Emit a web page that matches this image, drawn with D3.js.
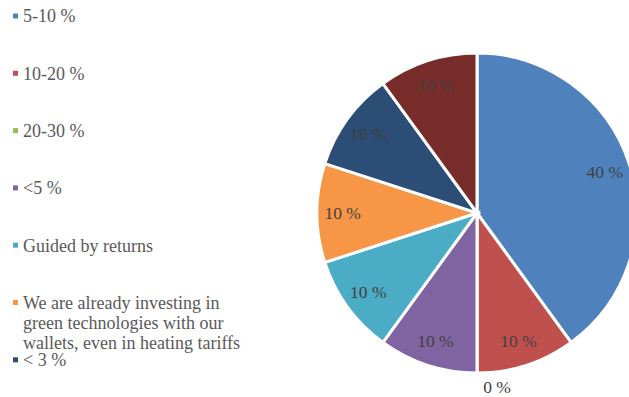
<!DOCTYPE html>
<html>
<head>
<meta charset="utf-8">
<script src="https://cdn.jsdelivr.net/npm/d3@7/dist/d3.min.js"></script>
<style>
  html, body { margin: 0; padding: 0; background: #fff; overflow: hidden; }
  svg { display: block; }
  text { font-family: "Liberation Serif", "DejaVu Serif", "Times New Roman", serif; }
</style>
</head>
<body>
<svg id="chart" width="629" height="397"></svg>
<script>
// Survey answers, in slice order (clockwise from 12 o'clock)
const categories = [
  "5-10 %",
  "10-20 %",
  "20-30 %",
  "<5 %",
  "Guided by returns",
  "We are already investing in green technologies with our wallets, even in heating tariffs",
  "< 3 %",
  "Other"
];
const shares = [40, 10, 0, 10, 10, 10, 10, 10];
const colors = ["#4f81bd", "#c0504d", "#9bbb59", "#8064a2", "#4bacc6", "#f79646", "#2c4d75", "#772c2a"];
// Legend text wrapped onto lines (the last entry falls below the visible area)
const legendLines = [
  ["5-10 %"],
  ["10-20 %"],
  ["20-30 %"],
  ["<5 %"],
  ["Guided by returns"],
  ["We are already investing in", "green technologies with our", "wallets, even in heating tariffs"],
  ["< 3 %"]
];

const svg = d3.select("#chart");

const cx = 477, cy = 213, R = 160;

const data = categories.map((c, i) => ({ name: c, value: shares[i], color: colors[i] }));

const pie = d3.pie().value(d => d.value).sort(null);
const arcs = pie(data);
const arc = d3.arc().innerRadius(0).outerRadius(R);
const labelArc = d3.arc().innerRadius(R * 0.84).outerRadius(R * 0.84);
const outerLabelArc = d3.arc().innerRadius(R + 14).outerRadius(R + 14);

const g = svg.append("g").attr("transform", `translate(${cx},${cy})`);

g.selectAll("path.slice")
  .data(arcs)
  .join("path")
  .attr("class", "slice")
  .attr("d", arc)
  .attr("fill", d => d.data.color)
  .attr("stroke", "#fff")
  .attr("stroke-width", 3)
  .attr("stroke-linejoin", "miter");

// Value labels: inside for real slices, just outside for empty ones
g.selectAll("text.val")
  .data(arcs)
  .join("text")
  .attr("class", "val")
  .attr("transform", d => {
    const [x, y] = d.value > 0 ? labelArc.centroid(d) : outerLabelArc.centroid(d);
    return `translate(${d.value > 0 ? x : x + 20},${y})`;
  })
  .attr("text-anchor", "middle")
  .attr("dy", "0.35em")
  .attr("font-size", 17.5)
  .attr("fill", "#404040")
  .text(d => `${d.data.value} %`);

// Legend
const legendY = d3.scaleLinear().domain([0, 1]).range([16, 73.3]);
const lineH = 20;

const leg = svg.append("g");
const items = leg.selectAll("g.item")
  .data(data.slice(0, legendLines.length))
  .join("g")
  .attr("class", "item")
  .attr("transform", (d, i) => `translate(0,${legendY(i)})`);

items.append("rect")
  .attr("x", 13)
  .attr("y", -2.5)
  .attr("width", 5)
  .attr("height", 5)
  .attr("fill", d => d.color);

items.append("text")
  .attr("x", 23)
  .attr("font-size", 18)
  .attr("fill", "#595959")
  .selectAll("tspan")
  .data((d, i) => legendLines[i])
  .join("tspan")
  .attr("x", 23)
  .attr("y", (t, j) => j * lineH)
  .attr("dy", "0.35em")
  .text(t => t);
</script>
</body>
</html>
